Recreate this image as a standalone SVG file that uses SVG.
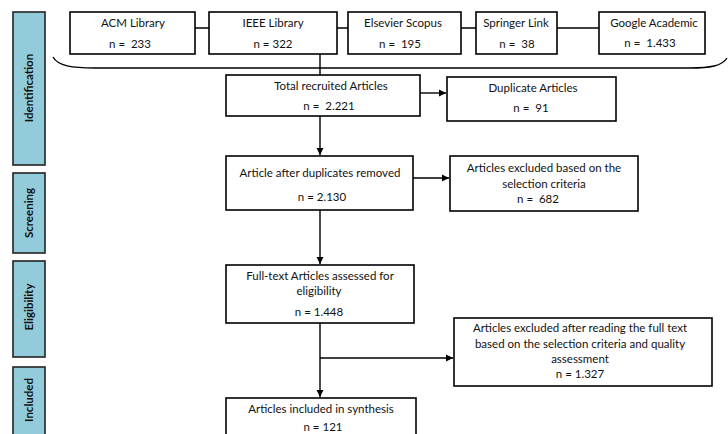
<svg xmlns="http://www.w3.org/2000/svg" width="728" height="434" viewBox="0 0 728 434">
<defs>
<marker id="ah" markerWidth="8" markerHeight="8" refX="7" refY="4" orient="auto" markerUnits="userSpaceOnUse">
<path d="M0,0.5 L7,4 L0,7.5 Z" fill="#000"/>
</marker>
<style>
.box{fill:#fff;stroke:#000;stroke-width:1.6}
.phase{fill:#92CBD9;stroke:#222;stroke-width:1.6}
.t{font-family:Lato,"Liberation Sans",sans-serif;font-size:11.5px;fill:#111;text-anchor:middle;white-space:pre}
.p{font-family:Lato,"Liberation Sans",sans-serif;font-size:11.5px;font-weight:bold;fill:#111;text-anchor:middle}
.ln{fill:none;stroke:#000;stroke-width:1.4}
.ar{fill:none;stroke:#000;stroke-width:1.4;marker-end:url(#ah)}
</style>
</defs>
<rect width="728" height="434" fill="#fff"/>

<g id="phase-identification"><rect class="phase" x="13" y="12" width="32" height="153"/><text class="p" transform="translate(33,88) rotate(-90)">Identification</text></g>
<g id="phase-screening"><rect class="phase" x="13" y="173" width="32" height="80"/><text class="p" transform="translate(33,213) rotate(-90)">Screening</text></g>
<g id="phase-eligibility"><rect class="phase" x="13" y="261" width="32" height="96"/><text class="p" transform="translate(33,307) rotate(-90)">Eligibility</text></g>
<g id="phase-included"><rect class="phase" x="13" y="367" width="32" height="80"/><text class="p" transform="translate(33,400) rotate(-90)">Included</text></g>

<g id="connectors">
<path class="ln" d="M195,28 H209 M337,28 H348 M461,28 H476 M557,28 H599"/>
<path class="ln" d="M53,57 C58,66 72,68 95,68 L690,68 C710,68 722,66 727,58"/>
<path class="ln" d="M320,54 V75"/>
<path class="ar" d="M420,93 H446"/>
<path class="ar" d="M320,116 V155"/>
<path class="ar" d="M413,178 H449"/>
<path class="ar" d="M320,210 V264"/>
<path class="ar" d="M320,323 V397"/>
<path class="ar" d="M320,358 H453"/>
</g>

<g id="acm"><rect class="box" x="70" y="12" width="125" height="42"/><text class="t" x="133" y="27">ACM Library</text><text class="t" x="130" y="48">n =  233</text></g>
<g id="ieee"><rect class="box" x="209" y="12" width="128" height="42"/><text class="t" x="273" y="27">IEEE Library</text><text class="t" x="273" y="48">n = 322</text></g>
<g id="elsevier"><rect class="box" x="348" y="12" width="113" height="42"/><text class="t" x="403" y="27">Elsevier Scopus</text><text class="t" x="400" y="48">n =  195</text></g>
<g id="springer"><rect class="box" x="476" y="12" width="81" height="42"/><text class="t" x="516" y="27">Springer Link</text><text class="t" x="517" y="48">n =  38</text></g>
<g id="google"><rect class="box" x="599" y="12" width="106" height="42"/><text class="t" x="654" y="27">Google Academic</text><text class="t" x="650" y="47">n =  1.433</text></g>

<g id="total"><rect class="box" x="226" y="75" width="194" height="41"/><text class="t" x="331" y="90">Total recruited Articles</text><text class="t" x="329" y="110">n =  2.221</text></g>
<g id="duplicate"><rect class="box" x="447" y="77" width="169" height="44"/><text class="t" x="533" y="92">Duplicate Articles</text><text class="t" x="531" y="112">n =  91</text></g>
<g id="after-duplicates"><rect class="box" x="226" y="156" width="187" height="54"/><text class="t" x="320" y="177">Article after duplicates removed</text><text class="t" x="322" y="201">n = 2.130</text></g>
<g id="excluded-selection"><rect class="box" x="450" y="156" width="188" height="55"/><text class="t" x="544" y="172">Articles excluded based on the</text><text class="t" x="544" y="188">selection criteria</text><text class="t" x="538" y="203">n =  682</text></g>
<g id="full-text"><rect class="box" x="226" y="265" width="188" height="58"/><text class="t" x="320" y="280">Full-text Articles assessed for</text><text class="t" x="319" y="295">eligibility</text><text class="t" x="319" y="316">n = 1.448</text></g>
<g id="excluded-full-text"><rect class="box" x="454" y="318" width="258" height="68"/><text class="t" x="580" y="332">Articles excluded after reading the full text</text><text class="t" x="580" y="348">based on the selection criteria and quality</text><text class="t" x="580" y="363">assessment</text><text class="t" x="580" y="378">n = 1.327</text></g>
<g id="included"><rect class="box" x="226" y="398" width="190" height="50"/><text class="t" x="321" y="413">Articles included in synthesis</text><text class="t" x="323" y="431">n = 121</text></g>
</svg>
